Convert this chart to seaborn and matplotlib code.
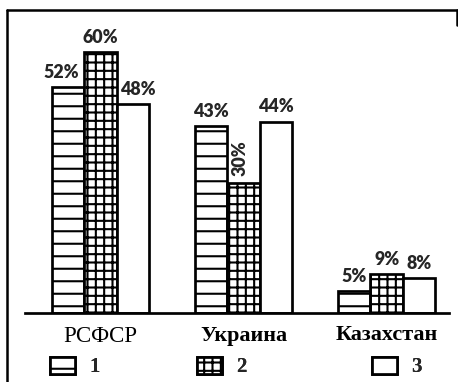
import matplotlib
matplotlib.use("Agg")
import matplotlib.pyplot as plt
from matplotlib.lines import Line2D
import pandas as pd
import seaborn as sns

# Shares by republic for three groups
regions = ["РСФСР", "Украина", "Казахстан"]
group_1 = [52, 43, 5]
group_2 = [60, 30, 9]
group_3 = [48, 44, 8]
group_names = ["1", "2", "3"]
hatches = ["--", "+++", ""]

df = pd.DataFrame({
    "region": regions * 3,
    "group": [g for g in group_names for _ in regions],
    "value": group_1 + group_2 + group_3,
})

sns.set_style("white")
plt.rcParams["hatch.color"] = "black"
plt.rcParams["hatch.linewidth"] = 1.0

DPI = 150
fig = plt.figure(figsize=(458 / DPI, 382 / DPI), dpi=DPI)
ax = fig.add_axes([25 / 458, 69 / 382, 424 / 458, 304.5 / 382])

sns.barplot(
    data=df, x="region", y="value", hue="group", hue_order=group_names,
    palette=["white"] * 3, edgecolor="black", linewidth=1.3,
    width=0.68, errorbar=None, legend=False, ax=ax,
)

for cont, h in zip(ax.containers, hatches):
    for bar in cont:
        bar.set_hatch(h)

# Percentage labels above every bar; the crowded first group is spread a bit
label_font = dict(family="Lato", weight="heavy", size=8.6)
x_shift = {(0, 0): -3.5, (2, 0): 2.5}
for gi, (cont, vals) in enumerate(zip(ax.containers, [group_1, group_2, group_3])):
    for ri, (bar, v) in enumerate(zip(cont, vals)):
        cx = bar.get_x() + bar.get_width() / 2
        if v == 30:
            ax.annotate(f"{v}%", (cx, bar.get_height()), xytext=(-1.5, 3),
                        textcoords="offset points", ha="center", va="bottom",
                        rotation=90, **label_font)
        else:
            ax.annotate(f"{v}%", (cx, bar.get_height()),
                        xytext=(x_shift.get((gi, ri), 0), 3),
                        textcoords="offset points", ha="center", va="bottom",
                        **label_font)

ax.set_xlim(-0.528, 2.436)
ax.set_ylim(0, 70)
ax.set_xlabel("")
ax.set_ylabel("")
ax.set_yticks([])
for side in ["left", "right", "top"]:
    ax.spines[side].set_visible(False)
ax.spines["bottom"].set_linewidth(1.3)
ax.spines["bottom"].set_color("black")
ax.tick_params(axis="x", length=0, pad=6)
ax.set_xticks(range(len(regions)))
ax.set_xticklabels(regions)
for i, t in enumerate(ax.get_xticklabels()):
    t.set_fontfamily("Liberation Serif")
    t.set_fontsize(11 if i == 0 else 10.6)
    t.set_fontweight("normal" if i == 0 else "bold")
    t.set_color("black")

# Legend: one entry per group, spread along the bottom
legend_x = [50, 197, 372]
for cont, name, x in zip(ax.containers, group_names, legend_x):
    leg = fig.legend(
        handles=[cont.patches[0]], labels=[name], loc="center left",
        bbox_to_anchor=(x / 458, 1 - 367 / 382), frameon=False,
        borderpad=0, borderaxespad=0, handlelength=1.2, handleheight=0.9,
        handletextpad=0.7,
        prop=dict(family="Liberation Serif", weight="bold", size=10),
    )
    fig.add_artist(leg)

# Outer frame
fig.add_artist(Line2D([7 / 458, 7 / 458], [0, 1 - 10 / 382], color="black",
                      lw=1.2, transform=fig.transFigure))
fig.add_artist(Line2D([7 / 458, 457 / 458], [1 - 10 / 382, 1 - 10 / 382],
                      color="black", lw=1.2, transform=fig.transFigure))
fig.add_artist(Line2D([457 / 458, 457 / 458], [1 - 10 / 382, 1 - 25 / 382],
                      color="black", lw=1.2, transform=fig.transFigure))

fig.savefig("out.png", dpi=DPI)
